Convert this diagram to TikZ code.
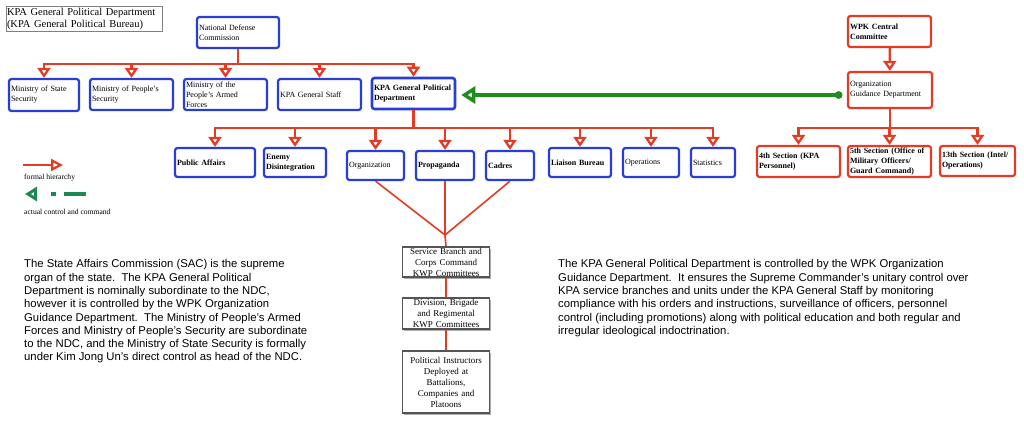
\documentclass[tikz,border=0pt]{standalone}
\usepackage{fontspec}
\setmainfont{Liberation Serif}
\setsansfont{Liberation Sans}
\usetikzlibrary{arrows.meta,shadows}
\definecolor{blueline}{RGB}{40,62,214}
\definecolor{redline}{RGB}{228,60,36}
\definecolor{grayline}{RGB}{85,85,85}
\definecolor{ctrlgreen}{RGB}{30,140,30}
\definecolor{lggreen}{RGB}{30,135,85}
\tikzstyle{orgbox}=[draw, line width=2.2pt, rounded corners=2.5pt, fill=white, align=left, inner xsep=2pt, inner ysep=1pt, font=\fontsize{8}{10}\selectfont, drop shadow={shadow xshift=0.8pt, shadow yshift=-0.8pt, opacity=0.25}]
\tikzstyle{bluebox}=[orgbox, draw=blueline]
\tikzstyle{redbox}=[orgbox, draw=redline]
\tikzstyle{graybox}=[draw=grayline, line width=1.8pt, fill=white, align=center, inner sep=0.5pt, text width=86pt, font=\fontsize{9}{11}\selectfont, drop shadow={shadow xshift=1.3pt, shadow yshift=-1.6pt, opacity=0.65}]
\tikzstyle{hier}=[draw=redline, line width=2.3pt, -{Triangle[open, length=10pt, width=13pt]}]
\tikzstyle{link}=[draw=redline, line width=1.6pt]
\tikzstyle{ctrl}=[draw=ctrlgreen, line width=3.4pt, {Circle[length=7.5pt]}-{Triangle[open, length=14pt, width=17pt]}]
\tikzstyle{para}=[anchor=north west, inner sep=0pt, align=left, font=\sffamily\fontsize{11.3}{13.3}\selectfont]
\tikzstyle{legtext}=[anchor=west, inner sep=0pt, font=\fontsize{7.6}{9}\selectfont]

\begin{document}
\begin{tikzpicture}[x=1pt, y=-1pt]
    \useasboundingbox (0,0) rectangle (1024,428);
    % title
    \node[draw=gray, line width=0.7pt, align=left, inner sep=1pt, text width=154pt, minimum height=25pt, font=\fontsize{10.5}{12}\selectfont] (title) at (84,18.5) {KPA General Political Department\\(KPA General Political Bureau)};
    % state side
    \node[bluebox, text width=78pt, minimum height=31pt] (ndc) at (238,32.5) {National Defense\\Commission};
    \node[bluebox, text width=66pt, minimum height=32pt] (mss) at (44,95) {Ministry of State\\Security};
    \node[bluebox, text width=79pt, minimum height=31pt] (mps) at (131.5,94.5) {Ministry of People’s\\Security};
    \node[bluebox, text width=79pt, minimum height=31pt] (mpaf) at (225.5,94.5) {Ministry of the\\People’s Armed\\Forces};
    \node[bluebox, text width=79pt, minimum height=31pt] (gs) at (319.5,94.5) {KPA General Staff};
    \node[bluebox, line width=2.6pt, text width=79pt, minimum height=31pt] (gpd) at (413.5,93.5) {\textbf{KPA General Political}\\\textbf{Department}};
    \draw[hier] (ndc.south) -- ++(0,15) -| (mss.north);
    \draw[hier] (ndc.south) -- ++(0,15) -| (mps.north);
    \draw[hier] (ndc.south) -- ++(0,15) -| (mpaf.north);
    \draw[hier] (ndc.south) -- ++(0,15) -| (gs.north);
    \draw[hier] (ndc.south) -- ++(0,15) -| (gpd.north);
    % GPD departments
    \node[bluebox, text width=76pt, minimum height=29pt] (pub) at (215,162.5) {\textbf{Public Affairs}};
    \node[bluebox, text width=58pt, minimum height=29pt] (enemy) at (295,162.5) {\textbf{Enemy}\\\textbf{Disintegration}};
    \node[bluebox, text width=53pt, minimum height=29pt] (org) at (375.5,165.5) {Organization};
    \node[bluebox, text width=54pt, minimum height=29pt] (prop) at (445,165.5) {\textbf{Propaganda}};
    \node[bluebox, text width=44pt, minimum height=29pt] (cadres) at (510,165.5) {\textbf{Cadres}};
    \node[bluebox, text width=58pt, minimum height=29pt] (liaison) at (580,162.5) {\textbf{Liaison Bureau}};
    \node[bluebox, text width=52pt, minimum height=29pt] (ops) at (651,162.5) {Operations};
    \node[bluebox, text width=40pt, minimum height=29pt] (stats) at (713,162.5) {Statistics};
    \draw[hier] (gpd.south) -- ++(0,18) -| (pub.north);
    \draw[hier] (gpd.south) -- ++(0,18) -| (enemy.north);
    \draw[hier] (gpd.south) -- ++(0,18) -| (org.north);
    \draw[hier] (gpd.south) -- ++(0,18) -| (prop.north);
    \draw[hier] (gpd.south) -- ++(0,18) -| (cadres.north);
    \draw[hier] (gpd.south) -- ++(0,18) -| (liaison.north);
    \draw[hier] (gpd.south) -- ++(0,18) -| (ops.north);
    \draw[hier] (gpd.south) -- ++(0,18) -| (stats.north);
    % KWP committees in the units
    \coordinate (join) at (445,235);
    \node[graybox, minimum height=30pt] (svc) at (446,262) {Service Branch and\\Corps Command\\KWP Committees};
    \node[graybox, minimum height=31pt] (div) at (446,313.5) {Division, Brigade\\and Regimental\\KWP Committees};
    \node[graybox, minimum height=62pt] (pol) at (446,382) {Political Instructors\\Deployed at\\Battalions,\\Companies and\\Platoons};
    \draw[link] (org.south) -- (join);
    \draw[link] (prop.south) -- (join);
    \draw[link] (cadres.south) -- (join);
    \draw[link] (join) -- (svc.north);
    \draw[link] (svc) -- (div);
    \draw[link] (div) -- (pol);
    % party side
    \node[redbox, text width=79pt, minimum height=31pt] (wpk) at (889.5,31.5) {\textbf{WPK Central}\\\textbf{Committee}};
    \node[redbox, text width=80pt, minimum height=36pt] (ogd) at (890,90) {Organization\\Guidance Department};
    \node[redbox, text width=79pt, minimum height=31pt] (sec4) at (798.5,161.5) {\textbf{4th Section (KPA}\\\textbf{Personnel)}};
    \node[redbox, text width=79pt, minimum height=31pt] (sec5) at (889.5,161.5) {\textbf{5th Section (Office of}\\\textbf{Military Officers/}\\\textbf{Guard Command)}};
    \node[redbox, text width=71pt, minimum height=30pt] (sec13) at (977.5,161) {\textbf{13th Section (Intel/}\\\textbf{Operations)}};
    \draw[hier] (wpk) -- (ogd);
    \draw[hier] (ogd.south) -- ++(0,19) -| (sec4.north);
    \draw[hier] (ogd.south) -- ++(0,19) -| (sec5.north);
    \draw[hier] (ogd.south) -- ++(0,19) -| (sec13.north);
    \draw[ctrl, shorten <=4.5pt, shorten >=5pt] ([yshift=-5pt]ogd.west) -- ([yshift=-5pt]ogd.west -| gpd.east);
    % legend
    \coordinate (fhA) at (23,165);
    \coordinate (fhB) at (63,165);
    \draw[hier, -{Triangle[open, length=12pt, width=12pt]}] (fhA) -- (fhB);
    \node[legtext] (fhlabel) at (24,178) {formal hierarchy};
    \coordinate (accA) at (86,194);
    \coordinate (accB) at (25,194);
    \draw[draw=lggreen, line width=3.2pt, dash pattern=on 22pt off 8pt on 5pt off 14pt, -{Triangle[open, length=12pt, width=14pt]}] (accA) -- (accB);
    \node[legtext] (acclabel) at (24,212) {actual control and command};
    % notes
    \node[para] (leftnote) at (24,259.5) {The State Affairs Commission (SAC) is the supreme\\organ of the state.\ \ The KPA General Political\\Department is nominally subordinate to the NDC,\\however it is controlled by the WPK Organization\\Guidance Department.\ \ The Ministry of People’s Armed\\Forces and Ministry of People’s Security are subordinate\\to the NDC, and the Ministry of State Security is formally\\under Kim Jong Un’s direct control as head of the NDC.};
    \node[para] (rightnote) at (558,259.5) {The KPA General Political Department is controlled by the WPK Organization\\Guidance Department.\ \ It ensures the Supreme Commander’s unitary control over\\KPA service branches and units under the KPA General Staff by monitoring\\compliance with his orders and instructions, surveillance of officers, personnel\\control (including promotions) along with political education and both regular and\\irregular ideological indoctrination.};
\end{tikzpicture}
\end{document}
